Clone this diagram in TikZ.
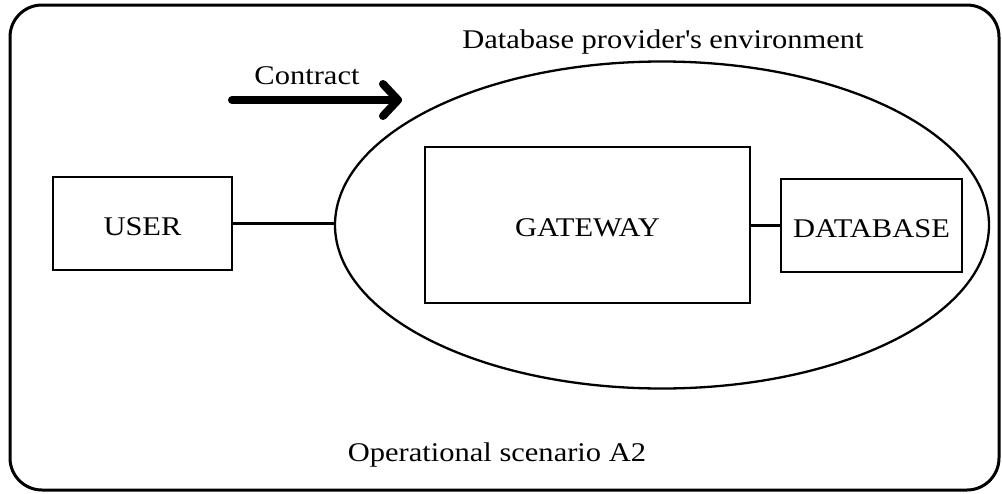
\documentclass[tikz,border=0pt]{standalone}
\usepackage{fontspec}
\setmainfont[FakeStretch=1.13]{Liberation Serif}
\usetikzlibrary{shapes.geometric,calc}
\tikzset{
  lbl/.style={font=\fontsize{27}{30}\selectfont, inner sep=0pt},
  blk/.style={draw, line width=2.3pt, inner sep=0pt, text height=23pt, text depth=0pt, font=\fontsize{27}{30}\selectfont},
  wire/.style={line width=2.3pt},
}
\begin{document}
\begin{tikzpicture}[x=1pt,y=-1pt]
\useasboundingbox (0,0) rectangle (1002,493);
% outer frame
\draw[line width=3pt, rounded corners=32pt] (10,5) rectangle (999,490);
% environment ellipse
\node[ellipse, draw, line width=2.3pt, minimum width=654pt, minimum height=327pt, inner sep=0pt] (env) at (662,225) {};
% boxes
\node[blk, minimum width=179pt, minimum height=93pt] (user) at (142.5,223.5) {USER};
\node[blk, minimum width=325pt, minimum height=156pt] (gw) at (587.5,225) {GATEWAY};
\node[blk, minimum width=181pt, minimum height=93pt] (db) at (871.5,225.5) {DATABASE};
% connectors
\draw[wire] (user.east) -- (user.east -| env.west);
\draw[wire] (db.west -| gw.east) -- (db.west);
% labels
\node[lbl, anchor=base] (envlbl) at (663,48) {Database provider\textquotesingle s environment};
\node[lbl, anchor=base] (contractlbl) at (307,84) {Contract};
\node[lbl, anchor=base] (scenario) at (497,461) {Operational scenario A2};
% contract arrow
\coordinate (cs) at (232,100);
\coordinate (ct) at (398,100);
\coordinate (cu) at (383,84);
\coordinate (cd) at (383,116);
\draw[line width=8pt, line cap=round] (cs) -- (ct);
\draw[line width=8pt, line cap=round, line join=round] (cu) -- (ct) -- (cd);
\end{tikzpicture}
\end{document}
